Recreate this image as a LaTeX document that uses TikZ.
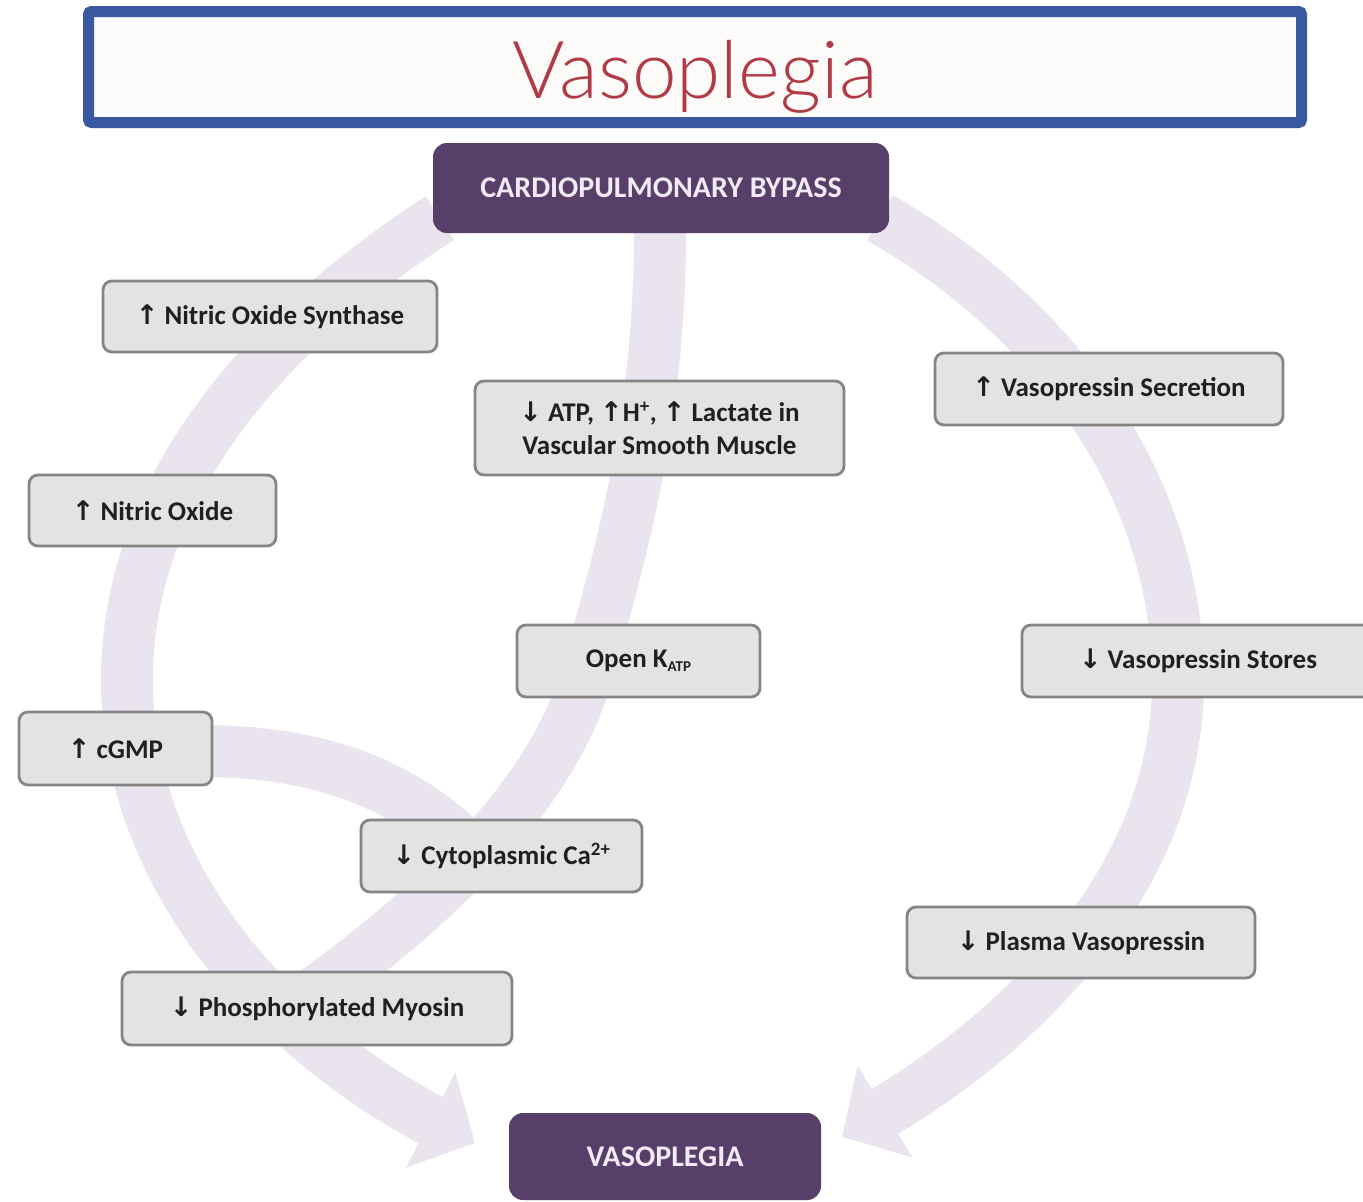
\documentclass[tikz,border=0pt]{standalone}
\usepackage{fontspec}
\setmainfont{Carlito}
\newfontfamily\arrowfont{DejaVu Sans}
\IfFontExistsTF{Lato Light}{\newfontfamily\titlefont{Lato Light}}{\newfontfamily\titlefont{Lato}}
\usetikzlibrary{arrows.meta}
\definecolor{bandc}{HTML}{EAE4EF}
\definecolor{purp}{HTML}{573F69}
\definecolor{purptext}{HTML}{F2EAF4}
\definecolor{boxfill}{HTML}{E3E3E3}
\definecolor{boxedge}{HTML}{858585}
\definecolor{boxtext}{HTML}{202020}
\definecolor{frameblue}{HTML}{3A58A0}
\definecolor{framefill}{HTML}{FDFBFA}
\definecolor{titlered}{HTML}{B03A45}
\newcommand\myup{{\arrowfont ↑}}
\newcommand\mydown{{\arrowfont ↓}}
\begin{document}
\begin{tikzpicture}[x=1pt,y=-1pt,
  graybox/.style={draw=boxedge, fill=boxfill, line width=2.8pt, rounded corners=9pt,
    text=boxtext, font=\fontsize{27}{33}\selectfont\bfseries, inner sep=0pt, align=center},
  purplebox/.style={fill=purp, rounded corners=14pt, text=purptext,
    font=\fontsize{30}{36}\selectfont\bfseries, inner sep=0pt},
  bandline/.style={draw=bandc, line width=52pt},
  bandarrow/.style={bandline, -{Triangle[length=50pt,width=104pt]}},
]
\useasboundingbox (0,0) rectangle (1363,1202);
\fill[white] (0,0) rectangle (1363,1202);

% title frame
\node[draw=frameblue, fill=framefill, line width=11pt, rounded corners=3pt,
      minimum width=1213pt, minimum height=111pt, inner sep=0pt] (frame) at (695,67) {};
\node[anchor=base, text=titlered, font=\titlefont\fontsize{80}{90}\selectfont, inner sep=0pt]
      (title) at (695,98) {Vasoplegia};

% named end points of the broad arrows
\coordinate (lstart) at (440,218);
\coordinate (lside) at (127,680);
\coordinate (ltip) at (475,1143);
\coordinate (mstart) at (660,232);
\coordinate (mbend) at (582,690);
\coordinate (mmerge) at (290,1010);
\coordinate (gstart) at (200,751);
\coordinate (gmerge) at (470,850);
\coordinate (rstart) at (880,218);
\coordinate (rside) at (1178,680);
\coordinate (rtip) at (842,1137);

% broad lavender arrows
\draw[bandarrow] (lstart) .. controls (274,325) and (127,482) .. (lside)
   .. controls (127,888) and (290,1047) .. (ltip);
\draw[bandline] (mstart) .. controls (660,420) and (620,560) .. (mbend)
   .. controls (540,810) and (420,920) .. (mmerge);
\draw[bandline] (gstart) .. controls (330,751) and (410,790) .. (gmerge);
\draw[bandarrow] (rstart) .. controls (1051,315) and (1178,483) .. (rside)
   .. controls (1178,883) and (1017,1033) .. (rtip);

% boxes
\node[purplebox, minimum width=456pt, minimum height=90pt] (cpb) at (661,188) {CARDIOPULMONARY BYPASS};
\node[graybox, minimum width=334pt, minimum height=71pt] (nos) at (270,316.5) {\myup\ Nitric Oxide Synthase};
\node[graybox, minimum width=369pt, minimum height=94pt] (atp) at (659.5,428)
   {\mydown\ ATP, \myup H\textsuperscript{+}, \myup\ Lactate in\\Vascular Smooth Muscle};
\node[graybox, minimum width=247pt, minimum height=71pt] (no) at (152.5,510.5) {\myup\ Nitric Oxide};
\node[graybox, minimum width=348pt, minimum height=72pt] (vsec) at (1109,389) {\myup\ Vasopressin Secretion};
\node[graybox, minimum width=243pt, minimum height=72pt] (katp) at (638.5,661)
   {Open K\raisebox{-0.3ex}{\fontsize{15}{15}\selectfont ATP}};
\node[graybox, minimum width=352pt, minimum height=72pt] (vsto) at (1198,661) {\mydown\ Vasopressin Stores};
\node[graybox, minimum width=193pt, minimum height=73pt] (cgmp) at (115.5,748.5) {\myup\ cGMP};
\node[graybox, minimum width=281pt, minimum height=72pt] (ca) at (501.5,856) {\mydown\ Cytoplasmic Ca\textsuperscript{2+}};
\node[graybox, minimum width=348pt, minimum height=71pt] (pv) at (1081,942.5) {\mydown\ Plasma Vasopressin};
\node[graybox, minimum width=390pt, minimum height=73pt] (pm) at (317,1008.5) {\mydown\ Phosphorylated Myosin};
\node[purplebox, minimum width=312pt, minimum height=87pt] (vaso) at (665,1156.5) {VASOPLEGIA};
\end{tikzpicture}
\end{document}
